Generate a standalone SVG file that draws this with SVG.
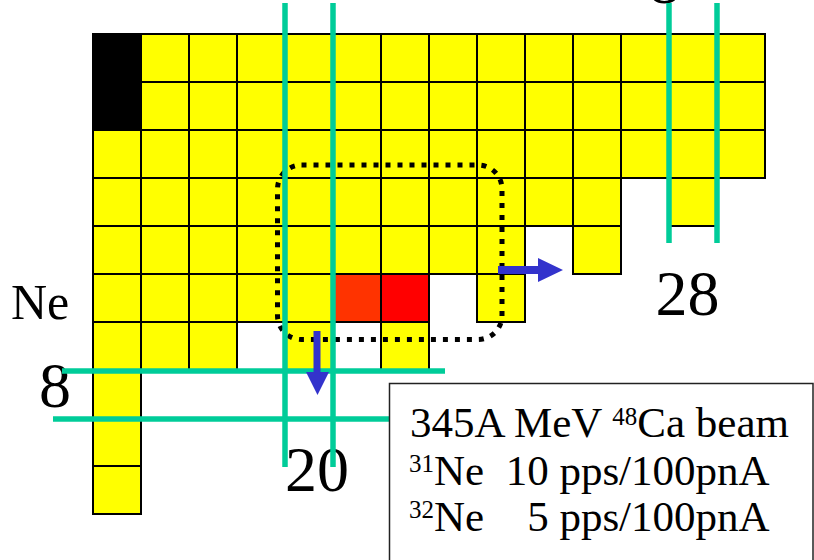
<svg xmlns="http://www.w3.org/2000/svg" width="814" height="560" viewBox="0 0 814 560">
<style>
.y{fill:#FFFF00;stroke:#000;stroke-width:2}
.k{fill:#000;stroke:#000;stroke-width:2}
.r1{fill:#FF3300;stroke:#000;stroke-width:2}
.r2{fill:#FF0000;stroke:#000;stroke-width:2}
.g{stroke:#00CC99;stroke-width:5.5;fill:none}
.lbl{font-family:"Liberation Serif","Times New Roman",serif;fill:#000}
.box{font-family:"Liberation Serif","Times New Roman",serif;font-size:43px;fill:#000;white-space:pre}
.ar{fill:#3333CC}
</style>
<rect width="814" height="560" fill="#fff"/>
<g id="chart">
<g id="row0">
<rect class="k" x="93" y="34" width="48" height="96"/>
<rect class="y" x="141" y="34" width="48" height="48"/><rect class="y" x="189" y="34" width="48" height="48"/><rect class="y" x="237" y="34" width="48" height="48"/><rect class="y" x="285" y="34" width="48" height="48"/><rect class="y" x="333" y="34" width="48" height="48"/><rect class="y" x="381" y="34" width="48" height="48"/><rect class="y" x="429" y="34" width="48" height="48"/><rect class="y" x="477" y="34" width="48" height="48"/><rect class="y" x="525" y="34" width="48" height="48"/><rect class="y" x="573" y="34" width="48" height="48"/><rect class="y" x="621" y="34" width="48" height="48"/><rect class="y" x="669" y="34" width="48" height="48"/><rect class="y" x="717" y="34" width="48" height="48"/>
</g>
<g id="row1">
<rect class="y" x="141" y="82" width="48" height="48"/><rect class="y" x="189" y="82" width="48" height="48"/><rect class="y" x="237" y="82" width="48" height="48"/><rect class="y" x="285" y="82" width="48" height="48"/><rect class="y" x="333" y="82" width="48" height="48"/><rect class="y" x="381" y="82" width="48" height="48"/><rect class="y" x="429" y="82" width="48" height="48"/><rect class="y" x="477" y="82" width="48" height="48"/><rect class="y" x="525" y="82" width="48" height="48"/><rect class="y" x="573" y="82" width="48" height="48"/><rect class="y" x="621" y="82" width="48" height="48"/><rect class="y" x="669" y="82" width="48" height="48"/><rect class="y" x="717" y="82" width="48" height="48"/>
</g>
<g id="row2">
<rect class="y" x="93" y="130" width="48" height="48"/><rect class="y" x="141" y="130" width="48" height="48"/><rect class="y" x="189" y="130" width="48" height="48"/><rect class="y" x="237" y="130" width="48" height="48"/><rect class="y" x="285" y="130" width="48" height="48"/><rect class="y" x="333" y="130" width="48" height="48"/><rect class="y" x="381" y="130" width="48" height="48"/><rect class="y" x="429" y="130" width="48" height="48"/><rect class="y" x="477" y="130" width="48" height="48"/><rect class="y" x="525" y="130" width="48" height="48"/><rect class="y" x="573" y="130" width="48" height="48"/><rect class="y" x="621" y="130" width="48" height="48"/><rect class="y" x="669" y="130" width="48" height="48"/><rect class="y" x="717" y="130" width="48" height="48"/>
</g>
<g id="row3">
<rect class="y" x="93" y="178" width="48" height="48"/><rect class="y" x="141" y="178" width="48" height="48"/><rect class="y" x="189" y="178" width="48" height="48"/><rect class="y" x="237" y="178" width="48" height="48"/><rect class="y" x="285" y="178" width="48" height="48"/><rect class="y" x="333" y="178" width="48" height="48"/><rect class="y" x="381" y="178" width="48" height="48"/><rect class="y" x="429" y="178" width="48" height="48"/><rect class="y" x="477" y="178" width="48" height="48"/><rect class="y" x="525" y="178" width="48" height="48"/><rect class="y" x="573" y="178" width="48" height="48"/><rect class="y" x="669" y="178" width="48" height="48"/>
</g>
<g id="row4">
<rect class="y" x="93" y="226" width="48" height="48"/><rect class="y" x="141" y="226" width="48" height="48"/><rect class="y" x="189" y="226" width="48" height="48"/><rect class="y" x="237" y="226" width="48" height="48"/><rect class="y" x="285" y="226" width="48" height="48"/><rect class="y" x="333" y="226" width="48" height="48"/><rect class="y" x="381" y="226" width="48" height="48"/><rect class="y" x="429" y="226" width="48" height="48"/><rect class="y" x="477" y="226" width="48" height="48"/><rect class="y" x="573" y="226" width="48" height="48"/>
</g>
<g id="row5">
<rect class="y" x="93" y="274" width="48" height="48"/><rect class="y" x="141" y="274" width="48" height="48"/><rect class="y" x="189" y="274" width="48" height="48"/><rect class="y" x="237" y="274" width="48" height="48"/><rect class="y" x="285" y="274" width="48" height="48"/><rect class="r1" x="333" y="274" width="48" height="48"/><rect class="r2" x="381" y="274" width="48" height="48"/><rect class="y" x="477" y="274" width="48" height="48"/>
</g>
<g id="row6">
<rect class="y" x="93" y="322" width="48" height="48"/><rect class="y" x="141" y="322" width="48" height="48"/><rect class="y" x="189" y="322" width="48" height="48"/><rect class="y" x="285" y="322" width="48" height="48"/><rect class="y" x="381" y="322" width="48" height="48"/>
</g>
<g id="row7-9">
<rect class="y" x="93" y="370" width="48" height="48"/><rect class="y" x="93" y="418" width="48" height="48"/><rect class="y" x="93" y="466" width="48" height="48"/>
</g>
</g>
<g id="labels">
<text class="lbl" x="11" y="319" font-size="50">Ne</text>
<text class="lbl" x="39" y="407" font-size="64">8</text>
<text class="lbl" x="285" y="491" font-size="64">20</text>
<text class="lbl" x="655.5" y="314.5" font-size="64">28</text>
<text class="lbl" x="648.5" y="2.5" font-size="64">8</text>
</g>
<g id="selection">
<rect x="277.5" y="165" width="224.5" height="174.5" rx="24" fill="none" stroke="#000" stroke-width="5" stroke-dasharray="5 7"/>
</g>
<g id="connectors">
<line class="g" x1="285" y1="3" x2="285" y2="467"/>
<line class="g" x1="333" y1="3" x2="333" y2="467"/>
<line class="g" x1="669" y1="3" x2="669" y2="243"/>
<line class="g" x1="717" y1="3" x2="717" y2="243"/>
<line class="g" x1="62" y1="371" x2="445" y2="371"/>
<line class="g" x1="53" y1="419" x2="390" y2="419"/>
<path class="ar" d="M313.5,331 h7 v41 h8.5 l-11.5,23 l-11.5,-23 h7.5 z"/>
<path class="ar" d="M498,266 h40 v-8 l25,12 l-25,12 v-8 h-40 z"/>
</g>
<g id="info">
<rect x="389.5" y="383.5" width="423.5" height="200" fill="#fff" stroke="#222" stroke-width="1.5"/>
<text class="box" x="410" y="437" xml:space="preserve">345A MeV <tspan dy="-12" font-size="25">48</tspan><tspan dy="12">Ca beam</tspan></text>
<text class="box" x="409" y="484.5" xml:space="preserve"><tspan dy="-13" font-size="25">31</tspan><tspan dy="13">Ne  10 pps/100pnA</tspan></text>
<text class="box" x="409" y="530.5" xml:space="preserve"><tspan dy="-13" font-size="25">32</tspan><tspan dy="13">Ne    5 pps/100pnA</tspan></text>
</g>
</svg>
